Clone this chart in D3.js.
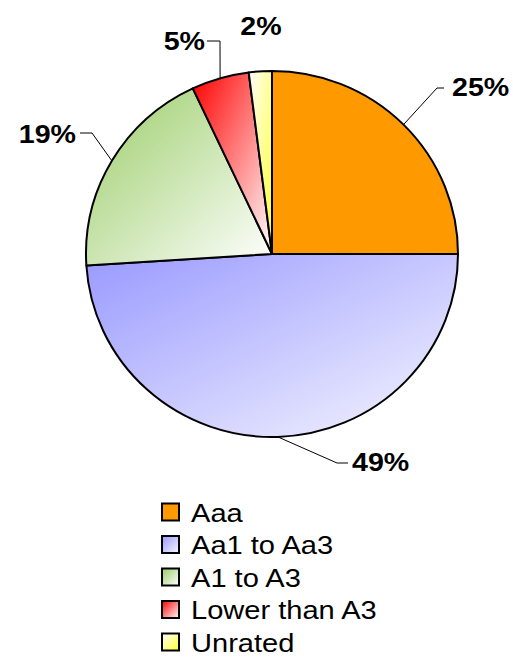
<!DOCTYPE html>
<html>
<head>
<meta charset="utf-8">
<script src="https://cdn.jsdelivr.net/npm/d3@7"></script>
<style>
  html, body { margin: 0; padding: 0; background: #fff; }
  svg { display: block; }
</style>
</head>
<body>
<svg id="chart" width="513" height="657"></svg>
<script>
// Rating distribution
const categories = ["Aaa", "Aa1 to Aa3", "A1 to A3", "Lower than A3", "Unrated"];
const shares = [25, 49, 19, 5, 2];
const labels = ["25%", "49%", "19%", "5%", "2%"];

// fill gradients: [start (top-left), end (bottom-right)]
const fills = [
  ["#FF9900", "#FF9900"],
  ["#9999FF", "#F6F6FF"],
  ["#99CC66", "#FFFFFF"],
  ["#FF0000", "#FFFFFF"],
  ["#FFFFFF", "#FFFF33"]
];

const svg = d3.select("#chart");
const cx = 272, cy = 254, rx = 186, ry = 183;
const FONT = "Liberation Sans, Arial, sans-serif";

const defs = svg.append("defs");
fills.forEach((f, i) => {
  const g = defs.append("linearGradient")
    .attr("id", "g" + i)
    .attr("x1", 0).attr("y1", 0).attr("x2", 1).attr("y2", 1);
  g.append("stop").attr("offset", "0%").attr("stop-color", f[0]);
  g.append("stop").attr("offset", "100%").attr("stop-color", f[1]);
});

const pie = d3.pie().sort(null).value(d => d)(shares);
const arc = d3.arc().innerRadius(0).outerRadius(rx);

const pieG = svg.append("g")
  .attr("transform", `translate(${cx},${cy}) scale(1,${ry / rx})`);

pieG.selectAll("path.slice")
  .data(pie)
  .join("path")
  .attr("class", "slice")
  .attr("d", arc)
  .attr("fill", (d, i) => `url(#g${i})`)
  .attr("stroke", "#000")
  .attr("stroke-width", 2)
  .attr("vector-effect", "non-scaling-stroke")
  .attr("stroke-linejoin", "round");

// point on the rim at a given angle
function rim(a) {
  return [cx + rx * Math.sin(a), cy - ry * Math.cos(a)];
}

// label layout: elbow point, end of horizontal tick, text anchor position
const labelLayout = [
  { elbow: [437, 88], end: [444, 88], text: [452, 96], anchor: "start" },
  { elbow: [337, 463], end: [348, 463], text: [352, 471], anchor: "start" },
  { elbow: [92, 133], end: [80, 133], text: [76, 143], anchor: "end" },
  { elbow: [220, 41], end: [207, 41], text: [205, 50], anchor: "end" },
  { elbow: null, end: null, text: [261, 35], anchor: "middle" }
];

pie.forEach((d, i) => {
  const L = labelLayout[i];
  const mid = (d.startAngle + d.endAngle) / 2;
  if (L.elbow) {
    const p = rim(mid);
    svg.append("polyline")
      .attr("points", [p, L.elbow, L.end].map(q => q.join(",")).join(" "))
      .attr("fill", "none")
      .attr("stroke", "#000")
      .attr("stroke-width", 1);
  }
  svg.append("text")
    .attr("transform", `translate(${L.text[0]},${L.text[1]}) scale(1.1,1)`)
    .attr("text-anchor", L.anchor)
    .attr("font-family", FONT)
    .attr("font-weight", "bold")
    .attr("font-size", 26)
    .text(labels[i]);
});

// legend
const legend = svg.append("g").attr("transform", "translate(162,503.5)");
const row = legend.selectAll("g")
  .data(categories)
  .join("g")
  .attr("transform", (d, i) => `translate(0,${i * 32.5})`);
row.append("rect")
  .attr("width", 17).attr("height", 17)
  .attr("fill", (d, i) => `url(#g${i})`)
  .attr("stroke", "#000")
  .attr("stroke-width", 2);
row.append("text")
  .attr("transform", "translate(29,18) scale(1.14,1)")
  .attr("font-family", FONT)
  .attr("font-size", 25.5)
  .text(d => d);
</script>
</body>
</html>
